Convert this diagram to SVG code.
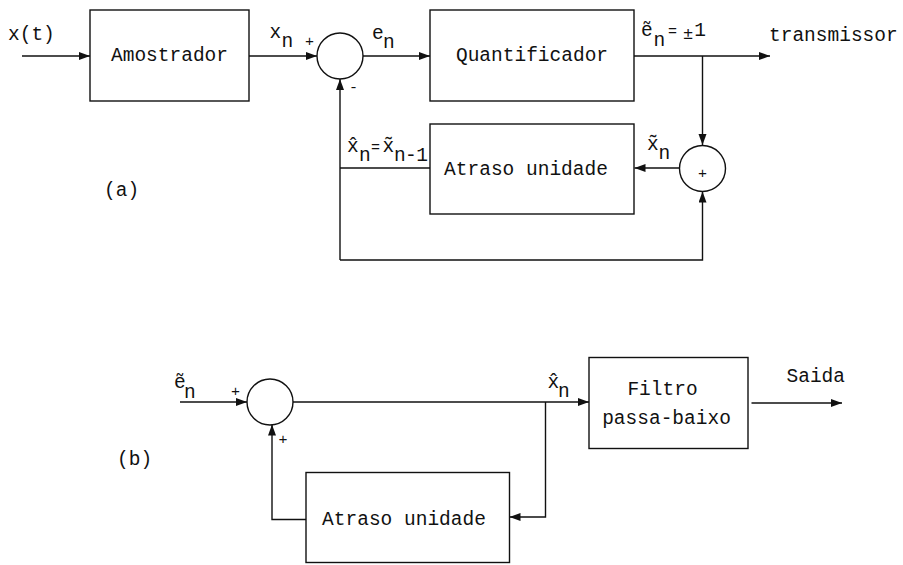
<svg xmlns="http://www.w3.org/2000/svg" width="903" height="565" viewBox="0 0 903 565">
<style>
text{font-family:"Liberation Mono","Courier New",monospace;fill:#111;font-size:19.5px}
.s{font-size:15px}
.eq{font-size:15px;text-anchor:middle}
.m{text-anchor:middle}
rect,circle{fill:#fff;stroke:#111;stroke-width:1.4}
#connectors path{fill:none;stroke:#111;stroke-width:1.4}
</style>
<defs>
<marker id="ah" markerUnits="userSpaceOnUse" markerWidth="12" markerHeight="9" refX="11" refY="4" orient="auto">
<path d="M0,0 L11,4 L0,8 z" fill="#111"/>
</marker>
</defs>
<rect width="903" height="565" fill="#fff" style="stroke:none"/>
<g id="connectors">
<path d="M22,56 H90" marker-end="url(#ah)"/>
<path d="M249,56 H317" marker-end="url(#ah)"/>
<path d="M363,56 H430" marker-end="url(#ah)"/>
<path d="M634,56 H770" marker-end="url(#ah)"/>
<path d="M702.5,56 V145" marker-end="url(#ah)"/>
<path d="M679,168 H634.5" marker-end="url(#ah)"/>
<path d="M430,168 H340"/>
<path d="M340,260 V79" marker-end="url(#ah)"/>
<path d="M340,260 H702.5 V191.5" marker-end="url(#ah)"/>
<path d="M180,402 H247" marker-end="url(#ah)"/>
<path d="M293,402 H589" marker-end="url(#ah)"/>
<path d="M545.5,402 V517 H509.5" marker-end="url(#ah)"/>
<path d="M306,519.5 H272 V424.5" marker-end="url(#ah)"/>
<path d="M751.5,403 H842" marker-end="url(#ah)"/>
</g>
<g id="label-xt"><text x="8" y="40">x(t)</text></g>
<g id="amostrador">
<rect x="90" y="10" width="159" height="91"/>
<text x="169.5" y="61" class="m">Amostrador</text>
</g>
<g id="label-xn"><text x="269.5" y="38">x</text><text x="281.5" y="47">n</text></g>
<g id="sum1">
<circle cx="340" cy="56" r="23"/>
<text x="309.5" y="46" class="s m">+</text>
<text x="353.5" y="92" class="s m">-</text>
</g>
<g id="label-en"><text x="372" y="38.5">e</text><text x="383" y="47.5">n</text></g>
<g id="quantificador">
<rect x="430" y="10" width="204" height="91"/>
<text x="532" y="61" class="m">Quantificador</text>
</g>
<g id="label-en-tilde">
<text x="641" y="36">ẽ</text><text x="653.5" y="46">n</text>
<text x="672.5" y="36" class="eq">=</text>
<text x="688" y="39" class="m" style="font-size:17px">±</text>
<text x="700" y="36" class="m">1</text>
</g>
<g id="label-transmissor"><text x="769" y="41">transmissor</text></g>
<g id="atraso-a">
<rect x="430" y="124" width="204" height="90"/>
<text x="526" y="175" class="m">Atraso unidade</text>
</g>
<g id="sum2">
<circle cx="702.5" cy="168.5" r="23"/>
<text x="702.5" y="178" class="s m">+</text>
</g>
<g id="label-xtilde-n">
<text x="647" y="150">x̃</text><text x="658.5" y="159">n</text>
</g>
<g id="label-xhat">
<text x="347" y="151.5">x̂</text><text x="359" y="161">n</text>
<text x="375.5" y="151.5" class="eq">=</text>
<text x="382.5" y="151.5">x̃</text><text x="394" y="161" style="letter-spacing:-0.6px">n-1</text>
</g>
<g id="label-a"><text x="104" y="196">(a)</text></g>
<g id="label-en-b">
<text x="174" y="388">ẽ</text><text x="184" y="398">n</text>
</g>
<g id="sum3">
<circle cx="270" cy="402" r="23"/>
<text x="235.5" y="396" class="s m">+</text>
<text x="283" y="444" class="s m">+</text>
</g>
<g id="label-xhat-b">
<text x="547.5" y="388">x̂</text><text x="558" y="397">n</text>
</g>
<g id="filtro">
<rect x="589" y="357.5" width="159" height="91"/>
<text x="662.5" y="395" class="m">Filtro</text>
<text x="666.5" y="423.5" class="m">passa-baixo</text>
</g>
<g id="label-saida"><text x="786.5" y="381.5">Saida</text></g>
<g id="atraso-b">
<rect x="306" y="472.5" width="203.5" height="90"/>
<text x="404" y="524.5" class="m">Atraso unidade</text>
</g>
<g id="label-b"><text x="117" y="465">(b)</text></g>
</svg>
